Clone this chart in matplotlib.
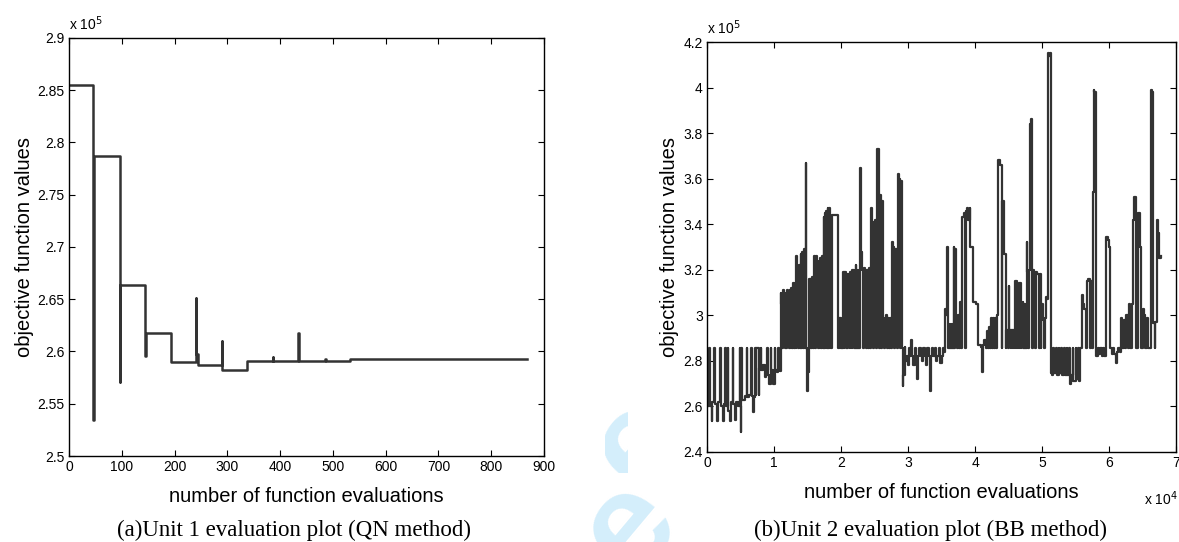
import matplotlib
matplotlib.use("Agg")
import matplotlib.pyplot as plt
from matplotlib.ticker import FuncFormatter, MultipleLocator
from matplotlib.patches import Rectangle

# objective values are stored in units of 1e5 (as shown on the y axes)

# (a) unit 1, QN method - step points
qn_evals = [0, 46, 47, 96, 97, 144, 145, 194, 240, 241, 244, 289, 290, 338,
            386, 387, 434, 435, 485, 486, 532, 868]
qn_obj = [2.855, 2.534, 2.787, 2.571, 2.664, 2.596, 2.618, 2.590, 2.651, 2.598,
          2.5875, 2.610, 2.5825, 2.591, 2.595, 2.591, 2.6175, 2.591, 2.593, 2.591,
          2.5925, 2.5925]

# (b) unit 2, BB method - step points, read region by region
bb_evals = [
    0, 150, 350, 420, 700, 780, 1100, 1180, 1500, 1580,
    1950, 2030, 2400, 2480, 2700, 2780, 3100, 3180, 3500, 3580,
    3850, 3930, 4250, 4330, 4600, 4880, 4960, 5040,
    5100, 5200, 5600, 5900, 5980, 6300, 6600, 6680, 6900, 7000, 7100, 7300, 7380, 7700, 7780,
    7800, 8000, 8080, 8400, 8700, 8800, 9000, 9080, 9300, 9500, 9580, 9900, 10100, 10180,
    10400, 10600, 10680, 10900,
    11000, 11100, 11250, 11350, 11500, 11600, 11750, 11850, 12000, 12100, 12250, 12350,
    12500, 12600, 12750, 12850,
    13000, 13100, 13250, 13350, 13500, 13600, 13750, 13850, 14000, 14100, 14250, 14350,
    14500, 14600, 14750,
    14850, 14950, 15050, 15150, 15300, 15400, 15550, 15650, 15800, 15900,
    16050, 16150, 16300, 16400, 16550, 16650, 16800, 16900, 17050, 17150, 17300, 17400,
    17500, 17600, 17700, 17800, 17900, 18000, 18100, 18200, 18300, 18400, 18500,
    18600, 19500, 19600, 19700, 19800, 19900, 20000, 20100, 20200, 20300, 20400,
    20500, 20700, 20800, 21000, 21100, 21300, 21400, 21600, 21700, 21900, 22000, 22200,
    22300, 22500, 22600, 22800, 22900,
    23000, 23100, 23300, 23400, 23600, 23700, 23900, 24000, 24200, 24300, 24500, 24600,
    24800, 24900, 25100, 25200, 25400,
    25600, 25700, 25800, 25900, 26100, 26200, 26400, 26500, 26700, 26800, 27000, 27100, 27300,
    27500, 27600, 27700, 27900, 28000, 28200, 28300, 28500, 28600, 28700, 28800, 29000, 29100,
    29200, 29300, 29500, 29600, 29800, 30000, 30100, 30300, 30500, 30600,
    30800, 31000, 31200, 31400, 31500, 31700, 31900, 32100, 32300, 32500,
    32700, 32900, 33100, 33300, 33400, 33600, 33800, 34000, 34200, 34400,
    34600, 34800, 35000, 35200, 35400,
    35500, 35700, 35800, 35900, 36000, 36200, 36300, 36500, 36600, 36800,
    36900, 37000, 37100, 37300, 37500, 37600, 37800, 37900, 38100, 38300,
    38500, 38600, 38800, 38900, 39200, 39300, 39500, 39700, 39800, 40200, 40500,
    40900, 41100, 41200, 41400, 41600, 41800, 41900, 42100, 42200, 42400, 42500, 42700,
    42800, 43000, 43100, 43300, 43500,
    43800, 44000, 44100, 44300, 44400, 44600, 44700, 44900, 45000, 45100, 45300, 45400,
    45600, 45700, 45900, 46000, 46200, 46300, 46500,
    46600, 46800, 46900, 47100, 47200, 47400, 47500, 47700, 47800, 47900, 48100, 48200,
    48400, 48500, 48700, 48800, 49000, 49100,
    49300, 49500, 49700, 49800, 49900, 50100, 50300, 50500, 50600, 50800, 50900, 51100,
    51200, 51300,
    51400, 51500, 51700, 51800, 52100, 52200, 52500, 52600, 52900, 53000,
    53300, 53400, 53700, 53800, 54100, 54200, 54400, 54600, 54700, 55000,
    55100, 55400, 55500, 55700,
    55900, 56100, 56300, 56500, 56700, 56900, 57100, 57300, 57500, 57600, 57700, 57800,
    58000, 58100, 58300, 58500, 58700, 58900, 59100, 59300, 59500,
    59600, 59800, 60000, 60200, 60400, 60600, 60800, 61000, 61200, 61400, 61600, 61800,
    62000, 62200, 62400, 62600, 62800, 63000, 63200,
    63400, 63600, 63800, 64000, 64100, 64300, 64400, 64600, 64800, 65000,
    65200, 65400, 65600, 65800, 66000, 66200, 66400, 66600, 66800, 66900,
    67100, 67200, 67300, 67500, 67700,
]
bb_obj = [
    2.64, 2.60, 2.855, 2.60, 2.535, 2.62, 2.855, 2.61, 2.535, 2.62,
    2.855, 2.60, 2.535, 2.61, 2.855, 2.60, 2.855, 2.58, 2.535, 2.62,
    2.855, 2.61, 2.54, 2.62, 2.60, 2.855, 2.60, 2.49,
    2.855, 2.63, 2.645, 2.855, 2.64, 2.65, 2.855, 2.645, 2.575, 2.64, 2.855, 2.65, 2.855, 2.65, 2.77,
    2.77, 2.855, 2.76, 2.78, 2.73, 2.77, 2.855, 2.74, 2.70, 2.855, 2.76, 2.70, 2.855, 2.76,
    2.75, 2.855, 2.76, 2.755,
    3.10, 3.05, 2.855, 3.11, 3.07, 2.855, 3.10, 2.855, 3.11, 3.08, 2.855, 3.11,
    2.855, 3.12, 2.855, 3.14,
    2.855, 3.14, 2.855, 3.26, 3.15, 2.855, 3.22, 2.855, 3.27, 2.855, 3.28, 2.855,
    3.29, 2.855, 3.67,
    2.855, 2.67, 2.75, 3.16, 2.855, 3.16, 2.855, 3.17, 2.855, 3.26,
    3.25, 2.855, 3.26, 3.18, 2.855, 3.24, 2.855, 3.25, 2.855, 3.26, 2.855, 3.43,
    2.855, 3.45, 2.855, 3.46, 2.855, 3.47, 2.855, 3.47, 2.855, 3.40, 2.855,
    3.44, 2.99, 2.855, 2.99, 2.855, 2.99, 2.855, 2.98, 2.855, 3.19, 2.855,
    3.19, 3.17, 2.855, 3.18, 3.15, 2.855, 3.19, 2.855, 3.20, 3.18, 2.855, 3.22,
    2.855, 3.20, 2.855, 3.20, 3.645,
    3.28, 3.20, 2.855, 3.21, 3.20, 2.855, 3.20, 2.855, 3.21, 2.855, 3.47, 3.41,
    2.855, 3.35, 3.42, 2.855, 3.73,
    3.72, 2.855, 3.53, 2.855, 3.50, 2.99, 2.855, 2.99, 3.00, 2.855, 2.99, 2.855, 2.99,
    2.855, 3.32, 3.30, 2.855, 3.29, 3.29, 2.855, 3.62, 3.61, 3.60, 2.855, 3.59, 2.855,
    2.69, 2.74, 2.86, 2.80, 2.82, 2.78, 2.855, 2.82, 2.89, 2.82,
    2.78, 2.855, 2.82, 2.72, 2.82, 2.855, 2.82, 2.80, 2.855, 2.82,
    2.78, 2.855, 2.82, 2.67, 2.82, 2.855, 2.82, 2.855, 2.80, 2.82,
    2.855, 2.79, 2.82, 2.855, 2.84,
    3.03, 3.00, 3.30, 3.29, 2.855, 2.96, 2.855, 2.96, 2.855, 3.30,
    2.855, 3.29, 2.96, 2.855, 3.00, 2.855, 3.06, 2.855, 3.43, 3.45,
    2.855, 3.46, 3.47, 3.42, 3.47, 3.30, 3.30, 3.06, 3.06, 3.05, 2.87,
    2.86, 2.75, 2.87, 2.89, 2.855, 2.93, 2.855, 2.95, 2.855, 2.99, 2.855, 2.99,
    2.855, 2.99, 2.855, 3.00, 3.68,
    3.66, 2.855, 3.50, 3.48, 3.27, 2.855, 2.935, 2.855, 3.13, 2.935, 2.855, 2.935,
    2.855, 2.935, 2.855, 3.15, 2.855, 3.10, 2.855,
    3.14, 2.855, 3.03, 3.06, 2.855, 3.05, 2.855, 3.32, 3.19, 2.855, 3.20, 3.84,
    3.86, 2.855, 3.20, 3.19, 2.855, 3.19,
    3.18, 2.855, 3.18, 2.855, 3.05, 2.98, 2.855, 2.99, 3.08, 3.07, 4.15, 4.14,
    4.15, 2.855,
    2.745, 2.74, 2.855, 2.745, 2.855, 2.74, 2.855, 2.745, 2.855, 2.74,
    2.855, 2.74, 2.855, 2.74, 2.855, 2.70, 2.74, 2.855, 2.71, 2.855,
    2.72, 2.855, 2.71, 2.855,
    3.09, 3.05, 3.03, 2.855, 3.15, 3.16, 2.855, 3.15, 2.855, 3.54, 3.99, 3.98,
    2.855, 2.82, 2.855, 2.83, 2.855, 2.82, 2.855, 2.82, 2.855,
    3.345, 3.33, 3.30, 2.855, 2.83, 2.855, 2.83, 2.79, 2.84, 2.855, 2.84, 2.99,
    2.855, 2.98, 2.855, 3.00, 2.855, 3.05, 2.855,
    3.05, 3.42, 3.52, 3.50, 2.855, 3.44, 3.45, 3.30, 2.855, 3.03,
    3.00, 2.855, 2.99, 2.855, 2.855, 3.99, 3.98, 2.965, 2.855, 2.97,
    3.33, 3.42, 3.36, 3.25, 3.26,
]

captions = ["(a)Unit 1 evaluation plot (QN method)",
            "(b)Unit 2 evaluation plot (BB method)"]
xlabel = "number of function evaluations"
ylabel = "objective function values"

W, H = 1179, 542
line_color = "#333333"
sans = ["Liberation Sans", "DejaVu Sans"]
serif = ["Liberation Serif", "DejaVu Serif"]
plt.rcParams["font.family"] = sans


def px_rect(x0, y0, x1, y1):
    # pixel box (top-left origin) -> figure fraction [left, bottom, width, height]
    return [x0 / W, 1 - y1 / H, (x1 - x0) / W, (y1 - y0) / H]


def style_axes(ax):
    ax.tick_params(direction="in", top=True, right=True, length=4, width=0.8,
                   labelsize=10, pad=3)
    for s in ax.spines.values():
        s.set_linewidth(1.0)
        s.set_color("black")


fig = plt.figure(figsize=(W / 100, H / 100), dpi=100)

# faint page watermark, only visible in the gaps between the two pasted panels
wm = "#d4eefb"
fig.text(630 / W, 1 - 528 / H, "e", fontsize=100, fontweight="bold", color=wm,
         rotation=50, ha="center", va="center", family=sans, zorder=-3)
fig.text(640 / W, 1 - 445 / H, "e", fontsize=100, fontweight="bold", color=wm,
         rotation=50, ha="center", va="center", family=sans, zorder=-3)
for box in [(0, 0, 605, 473), (628, 0, W, 473), (0, 473, W, 492)]:
    fig.patches.append(Rectangle((box[0] / W, 1 - box[3] / H),
                                 (box[2] - box[0]) / W, (box[3] - box[1]) / H,
                                 transform=fig.transFigure, facecolor="white",
                                 edgecolor="none", zorder=-2))

# ---- (a) QN ----
ax1 = fig.add_axes(px_rect(69, 38, 544, 456))
ax1.plot(qn_evals, qn_obj, drawstyle="steps-post", color=line_color, lw=1.8)
ax1.set_xlim(0, 900)
ax1.set_ylim(2.5, 2.9)
ax1.xaxis.set_major_locator(MultipleLocator(100))
ax1.yaxis.set_major_locator(MultipleLocator(0.05))
ax1.yaxis.set_major_formatter(FuncFormatter(lambda v, _: f"{round(v, 2):g}"))
style_axes(ax1)
ax1.set_xlabel(xlabel, fontsize=14.5)
ax1.set_ylabel(ylabel, fontsize=14.5)
ax1.xaxis.set_label_coords(0.5, -0.075)
ax1.yaxis.set_label_coords(-0.074, 0.5)
ax1.text(0.0, 1.012, r"x 10$^{5}$", transform=ax1.transAxes, fontsize=10,
         ha="left", va="bottom")

# ---- (b) BB ----
ax2 = fig.add_axes(px_rect(707, 42, 1176, 452))
ax2.plot(bb_evals, bb_obj, drawstyle="steps-post", color=line_color, lw=1.6)
ax2.set_xlim(0, 70000)
ax2.set_ylim(2.4, 4.2)
ax2.xaxis.set_major_locator(MultipleLocator(10000))
ax2.yaxis.set_major_locator(MultipleLocator(0.2))
ax2.xaxis.set_major_formatter(FuncFormatter(lambda v, _: f"{v / 1e4:g}"))
ax2.yaxis.set_major_formatter(FuncFormatter(lambda v, _: f"{round(v, 1):g}"))
style_axes(ax2)
ax2.set_xlabel(xlabel, fontsize=14.5)
ax2.set_ylabel(ylabel, fontsize=14.5)
ax2.xaxis.set_label_coords(0.5, -0.076)
ax2.yaxis.set_label_coords(-0.060, 0.5)
ax2.text(0.0, 1.012, r"x 10$^{5}$", transform=ax2.transAxes, fontsize=10,
         ha="left", va="bottom")
ax2.text(1.005, -0.09, r"x 10$^{4}$", transform=ax2.transAxes, fontsize=10,
         ha="right", va="top")

# captions
fig.text(294 / W, 1 - 530 / H, captions[0], fontsize=16.5, family=serif,
         ha="center", va="center")
fig.text(931 / W, 1 - 530 / H, captions[1], fontsize=16.5, family=serif,
         ha="center", va="center")

fig.savefig("out.png", dpi=100)
